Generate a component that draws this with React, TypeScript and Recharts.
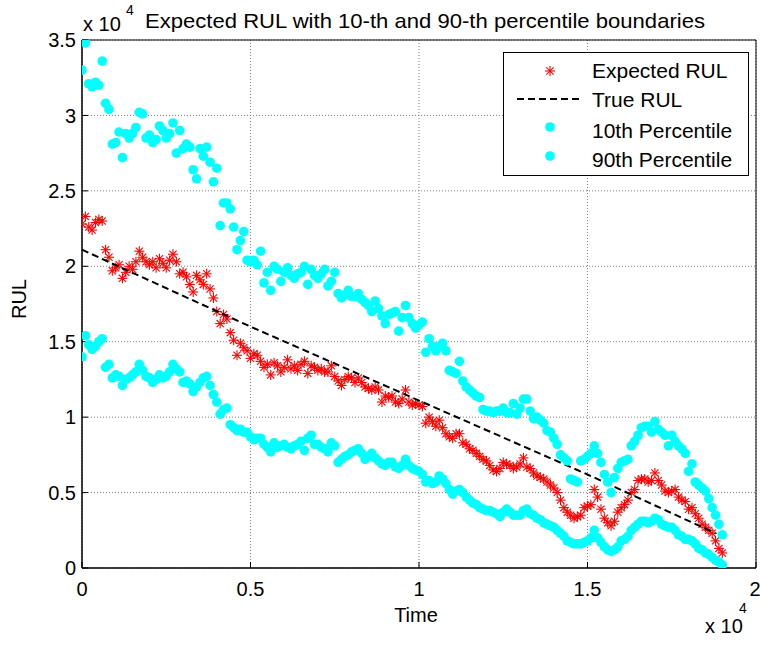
import React from 'react'
import { ScatterChart, Scatter, XAxis, YAxis, CartesianGrid, Legend, Label, ReferenceArea } from 'recharts'

// sample times (s)
const time = [
  0, 100, 200, 300, 400, 500, 600, 700, 800, 900, 1000, 1100, 1200, 1300, 1400, 1500, 1600, 1700, 1800, 1900,
  2000, 2100, 2200, 2300, 2400, 2500, 2600, 2700, 2800, 2900, 3000, 3100, 3200, 3300, 3400, 3500, 3600, 3700, 3800, 3900,
  4000, 4100, 4200, 4300, 4400, 4500, 4600, 4700, 4800, 4900, 5000, 5100, 5200, 5300, 5400, 5500, 5600, 5700, 5800, 5900,
  6000, 6100, 6200, 6300, 6400, 6500, 6600, 6700, 6800, 6900, 7000, 7100, 7200, 7300, 7400, 7500, 7600, 7700, 7800, 7900,
  8000, 8100, 8200, 8300, 8400, 8500, 8600, 8700, 8800, 8900, 9000, 9100, 9200, 9300, 9400, 9500, 9600, 9700, 9800, 9900,
  10000, 10100, 10200, 10300, 10400, 10500, 10600, 10700, 10800, 10900, 11000, 11100, 11200, 11300, 11400, 11500, 11600, 11700, 11800, 11900,
  12000, 12100, 12200, 12300, 12400, 12500, 12600, 12700, 12800, 12900, 13000, 13100, 13200, 13300, 13400, 13500, 13600, 13700, 13800, 13900,
  14000, 14100, 14200, 14300, 14400, 14500, 14600, 14700, 14800, 14900, 15000, 15100, 15200, 15300, 15400, 15500, 15600, 15700, 15800, 15900,
  16000, 16100, 16200, 16300, 16400, 16500, 16600, 16700, 16800, 16900, 17000, 17100, 17200, 17300, 17400, 17500, 17600, 17700, 17800, 17900,
  18000, 18100, 18200, 18300, 18400, 18500, 18600, 18700, 18800, 18900, 19000,
]

const expectedRul = [
  22800, 23300, 22600, 22400, 22900, 23100, 23000, 21100, 20600, 19700,
  19900, 20100, 19200, 19600, 20000, 19800, 20300, 21000, 20600, 20300,
  20100, 20300, 19900, 20500, 20200, 19900, 20400, 20800, 20300, 19500,
  19600, 19300, 18800, 18300, 19400, 19100, 18800, 19500, 18500, 17900,
  17000, 16200, 16800, 16500, 15600, 15100, 14100, 14900, 14600, 14400,
  13900, 14200, 14100, 13700, 13300, 13500, 12800, 13600, 13400, 13000,
  13300, 13800, 13200, 13400, 13100, 13500, 13700, 12900, 13400, 13300,
  13100, 13200, 13000, 13000, 13400, 12700, 12400, 12100, 12500, 12700,
  12600, 12300, 12600, 12300, 12000, 11900, 11800, 12000, 11800, 11000,
  11400, 11300, 11400, 11000, 10900, 11200, 11800, 11000, 10800, 10900,
  10800, 10700, 9600, 10000, 9700, 9400, 9800, 9300, 8900, 8700,
  8600, 8900, 8900, 8300, 8200, 7900, 7800, 7600, 7400, 7200,
  7100, 6800, 6500, 6400, 6600, 7000, 6900, 6800, 6600, 6700,
  6900, 7300, 6700, 6600, 6300, 6100, 6000, 5900, 5700, 5500,
  5300, 5000, 4500, 4000, 3700, 3500, 3300, 3400, 3500, 4000,
  4100, 4200, 5200, 4700, 3900, 3300, 3000, 2800, 3100, 3700,
  4000, 4200, 4500, 5000, 5200, 5800, 5900, 5900, 5700, 5800,
  6300, 5800, 5500, 5100, 5000, 5100, 5200, 4700, 4500, 4400,
  3900, 4000, 3600, 3300, 2900, 2700, 2500, 2300, 1800, 1300, 1000,
]

const p10Rul = [
  14000, 15400, 14800, 14500, 14700, 15000, 15200, 13300, 13500, 12600,
  12800, 12700, 12100, 12500, 12600, 12800, 13000, 13500, 13100, 12700,
  12600, 12300, 12500, 12800, 12600, 12700, 13000, 13500, 13200, 13000,
  12300, 12400, 12200, 11700, 12000, 12300, 12600, 12700, 12100, 11500,
  11000, 10200, 10500, 10600, 9500, 9300, 9100, 9200, 9000, 9000,
  8700, 8500, 8600, 8600, 8200, 8000, 7700, 8300, 8000, 8100,
  8200, 8000, 7900, 8100, 8200, 8400, 7800, 8600, 8800, 8200,
  8200, 8000, 7900, 7700, 8300, 8100, 7000, 7200, 7400, 7500,
  7700, 7800, 7900, 7600, 7200, 7400, 7600, 7300, 7100, 6900,
  6800, 7000, 7000, 6700, 6600, 6800, 7200, 6800, 6600, 6500,
  6400, 6200, 5700, 5800, 5600, 5700, 6100, 5900, 5600, 5200,
  4900, 5100, 5200, 5000, 4700, 4500, 4300, 4200, 4000, 3900,
  3800, 3800, 3700, 3600, 3400, 3700, 3900, 3700, 3500, 3500,
  3500, 3800, 3900, 3600, 3500, 3300, 3200, 3000, 2900, 2800,
  2700, 2500, 2300, 2100, 1800, 1700, 1600, 1600, 1600, 1700,
  1800, 2000, 2500, 2000, 1700, 1400, 1200, 1100, 1200, 1400,
  1800, 1900, 2100, 2500, 2700, 2900, 3100, 3100, 3000, 3100,
  3300, 3200, 2900, 2800, 2700, 2700, 2500, 2200, 2100, 1900,
  1900, 1800, 1600, 1300, 1200, 1000, 900, 700, 500, 400, 200,
]

const p90Rul = [
  33000, 34800, 32100, 31900, 32200, 32000, 33600, 30800, 30400, 28100,
  28200, 28900, 27200, 28800, 28500, 28800, 29200, 30200, 30100, 28500,
  28700, 28200, 28400, 29300, 29000, 28500, 28800, 29500, 27500, 29000,
  27800, 28100, 27900, 26400, 25800, 27800, 27300, 27900, 26900, 25600,
  26500, 22700, 24200, 24200, 23800, 22600, 21100, 21700, 22300, 20400,
  20300, 20400, 20100, 21000, 18900, 19600, 18400, 20000, 19800, 19000,
  19600, 19900, 19400, 19200, 19500, 19600, 20000, 18800, 19800, 19400,
  19200, 19500, 19800, 18700, 19000, 19600, 18200, 17900, 18100, 18400,
  18000, 18000, 18200, 17800, 17600, 17400, 17000, 17700, 17200, 16700,
  16200, 16800, 16900, 17000, 15700, 16600, 17400, 16600, 16200, 15900,
  16100, 16300, 14300, 15200, 14700, 14400, 14700, 14900, 14400, 13100,
  13000, 12900, 13700, 12400, 12000, 11800, 11600, 11400, 11300, 10500,
  10400, 10400, 10300, 10400, 10400, 10600, 10300, 10300, 10900, 10200,
  10600, 11200, 11200, 10400, 9900, 10000, 9800, 9600, 9100, 9000,
  8600, 8200, 7500, 7300, 7100, 5900, 5800, 5700, 7100, 7200,
  7400, 7600, 8100, 7600, 7000, 6200, 5700, 5000, 6000, 6600,
  7000, 7100, 7200, 8100, 8400, 8800, 9300, 9400, 9400, 9000,
  9700, 9200, 9000, 8800, 8100, 8800, 8400, 8100, 7900, 7600,
  6400, 6900, 5700, 5500, 5300, 5100, 4600, 4000, 3500, 2900, 2200,
]

const trueTime = [0, 5000, 10000, 15000, 18800]
const trueRul = [21100, 16000, 11100, 6200, 2300]

const xTicks = [0, 5000, 10000, 15000, 20000]
const yTicks = [0, 5000, 10000, 15000, 20000, 25000, 30000, 35000]

const legendItems = ['Expected RUL', 'True RUL', '10th Percentile', '90th Percentile']
const title = 'Expected RUL with 10-th and 90-th percentile boundaries'

const FONT = '"Liberation Sans", Arial, Helvetica, sans-serif'
const RED = '#ff0000'
const CYAN = '#00ffff'

const toPts = (xs: number[], ys: number[]) => xs.map((t, i) => ({ t, v: ys[i] }))

const fmt = (v: number) => String(v / 10000)

function Star({ cx, cy }: { cx: number; cy: number }) {
  const r = 5
  const d = 3.6
  return (
    <g stroke={RED} strokeWidth={1.1}>
      <line x1={cx - r} y1={cy} x2={cx + r} y2={cy} />
      <line x1={cx} y1={cy - r} x2={cx} y2={cy + r} />
      <line x1={cx - d} y1={cy - d} x2={cx + d} y2={cy + d} />
      <line x1={cx - d} y1={cy + d} x2={cx + d} y2={cy - d} />
    </g>
  )
}

function Dot({ cx, cy }: { cx: number; cy: number }) {
  return <circle cx={cx} cy={cy} r={4.8} fill={CYAN} />
}

function LegendBox() {
  const txt = { fontFamily: FONT, fontSize: 21, fill: '#000' }
  return (
    <svg width={246} height={124} style={{ display: 'block' }}>
      <rect x={0.5} y={0.5} width={245} height={123} fill="#fff" stroke="#000" strokeWidth={1} />
      <Star cx={47} cy={19} />
      <text x={89} y={26} {...txt}>{legendItems[0]}</text>
      <line x1={14} y1={47} x2={78} y2={47} stroke="#000" strokeWidth={2} strokeDasharray="7 4" />
      <text x={89} y={55} {...txt}>{legendItems[1]}</text>
      <Dot cx={47} cy={75} />
      <text x={89} y={86} {...txt}>{legendItems[2]}</text>
      <Dot cx={47} cy={104} />
      <text x={89} y={115} {...txt}>{legendItems[3]}</text>
    </svg>
  )
}

export default function App() {
  const tickStyle = { fontFamily: FONT, fontSize: 20, fill: '#000' }
  const expected = toPts(time, expectedRul)
  const p10 = toPts(time, p10Rul)
  const p90 = toPts(time, p90Rul)
  const trueLine = toPts(trueTime, trueRul)

  return (
    <div style={{ position: 'absolute', left: 0, top: 0, width: 760, height: 646, background: '#fff' }}>
      <ScatterChart width={760} height={646} margin={{ top: 40, right: 4, bottom: 0, left: 0 }}>
        <CartesianGrid stroke="#808080" strokeDasharray="1 2" />
        <XAxis
          type="number"
          dataKey="t"
          domain={[0, 20000]}
          ticks={xTicks}
          tickFormatter={fmt}
          height={78}
          stroke="#000"
          tickSize={-6}
          tickMargin={20}
          tick={tickStyle}
          allowDataOverflow
        >
          <Label
            content={({ viewBox }: any) => (
              <g style={{ fontFamily: FONT, fill: '#000' }}>
                <text x={viewBox.x + viewBox.width / 2 - 3} y={viewBox.y + 54} fontSize={20} textAnchor="middle">Time</text>
                <text x={705} y={633} fontSize={20}>x 10</text>
                <text x={739} y={613} fontSize={14}>4</text>
                <text x={83} y={31} fontSize={20}>x 10</text>
                <text x={126} y={15} fontSize={14}>4</text>
                <text x={145} y={28} fontSize={21} textLength={560} lengthAdjust="spacingAndGlyphs">{title}</text>
              </g>
            )}
          />
        </XAxis>
        <YAxis
          type="number"
          dataKey="v"
          domain={[0, 35000]}
          ticks={yTicks}
          tickFormatter={fmt}
          width={82}
          stroke="#000"
          tickSize={-6}
          tickMargin={12}
          tick={tickStyle}
          allowDataOverflow
        >
          <Label
            content={({ viewBox }: any) => {
              const cy = viewBox.y + viewBox.height / 2 - 5
              return (
                <text
                  x={26}
                  y={cy}
                  transform={`rotate(-90 26 ${cy})`}
                  textAnchor="middle"
                  style={{ fontFamily: FONT, fontSize: 20, fill: '#000' }}
                >
                  RUL
                </text>
              )
            }}
          />
        </YAxis>
        <ReferenceArea
          x1={0}
          x2={20000}
          y1={0}
          y2={35000}
          fill="none"
          fillOpacity={0}
          stroke="#000"
          strokeWidth={1}
          strokeOpacity={1}
        />
        <Legend
          layout="vertical"
          align="center"
          verticalAlign="middle"
          content={() => <LegendBox />}
          wrapperStyle={{ left: 503, top: 52, width: 246, height: 124 }}
        />
        <Scatter
          name={legendItems[0]}
          data={expected}
          shape={(p: any) => <Star cx={p.cx} cy={p.cy} />}
          isAnimationActive={false}
        />
        <Scatter
          name={legendItems[1]}
          data={trueLine}
          line={{ stroke: '#000', strokeWidth: 2, strokeDasharray: '7 4' }}
          lineType="joint"
          shape={() => <g />}
          isAnimationActive={false}
        />
        <Scatter
          name={legendItems[2]}
          data={p10}
          shape={(p: any) => <Dot cx={p.cx} cy={p.cy} />}
          isAnimationActive={false}
        />
        <Scatter
          name={legendItems[3]}
          data={p90}
          shape={(p: any) => <Dot cx={p.cx} cy={p.cy} />}
          isAnimationActive={false}
        />
      </ScatterChart>
    </div>
  )
}
